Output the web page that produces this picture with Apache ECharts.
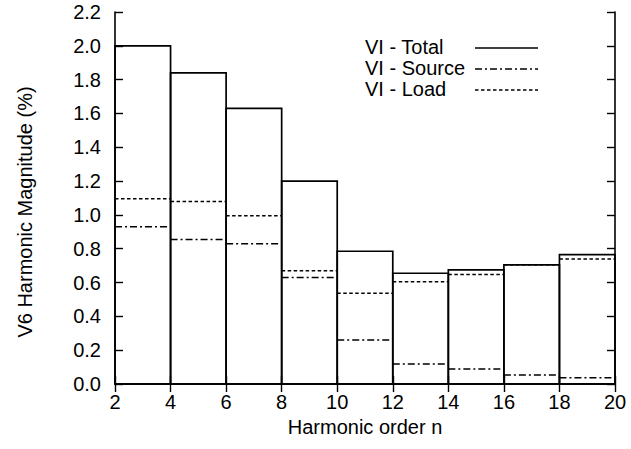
<!DOCTYPE html>
<html>
<head>
<meta charset="utf-8">
<script src="https://cdn.jsdelivr.net/npm/echarts@6/dist/echarts.min.js"></script>
<style>
html,body{margin:0;padding:0;background:#fff;}
#c{width:631px;height:449px;}
</style>
</head>
<body>
<div id="c"></div>
<script>
// Harmonic bins: each bar spans [binStart, binEnd]
const binStart = [2, 4, 6, 8, 10, 12, 14, 16, 18];
const binEnd   = [4, 6, 8, 10, 12, 14, 16, 18, 20];
// V6 harmonic magnitude (%)
const viTotal  = [2.00, 1.84, 1.63, 1.20, 0.785, 0.655, 0.675, 0.705, 0.765];
const viSource = [0.93, 0.855, 0.83, 0.63, 0.26, 0.118, 0.089, 0.053, 0.037];
const viLoad   = [1.095, 1.08, 0.995, 0.67, 0.536, 0.605, 0.648, 0.705, 0.739];
const legendNames = ['VI - Total', 'VI - Source', 'VI - Load'];
const xTitle = 'Harmonic order n';
const yTitle = 'V6 Harmonic Magnitude (%)';

const FONT = '"Liberation Sans", Arial, Helvetica, sans-serif';
const FS = 20;

const dashSource = [7, 3, 2, 3];
const dashLoad = [3.5, 2.5];

function rows(vals) {
  return binStart.map((s, i) => [s, binEnd[i], vals[i]]);
}

function rectItem(params, api) {
  const p0 = api.coord([api.value(0), api.value(2)]);
  const p1 = api.coord([api.value(1), 0]);
  return {
    type: 'rect',
    shape: { x: p0[0], y: p0[1], width: p1[0] - p0[0], height: p1[1] - p0[1] },
    style: { fill: 'none', stroke: '#000', lineWidth: 1.7 }
  };
}
function segItem(dash) {
  return function (params, api) {
    const p0 = api.coord([api.value(0), api.value(2)]);
    const p1 = api.coord([api.value(1), api.value(2)]);
    return {
      type: 'line',
      shape: { x1: p0[0], y1: p0[1], x2: p1[0], y2: p1[1] },
      style: { stroke: '#000', lineWidth: 1.5, lineDash: dash }
    };
  };
}

const chart = echarts.init(document.getElementById('c'), null, { renderer: 'svg' });

const axisLineStyle = { color: '#000', width: 1.6 };
const tickStyle = { show: true, inside: true, length: 8, lineStyle: { color: '#000', width: 1.4 } };

const legendX = 365, legendY = [48, 69, 90], lineX1 = 475, lineX2 = 538;
const legendDashes = [null, dashSource, dashLoad];
const graphics = [];
legendNames.forEach((n, i) => {
  graphics.push({
    type: 'text', left: legendX, top: legendY[i] - 11,
    style: { text: n, font: FS + 'px ' + FONT, fill: '#000' }
  });
  graphics.push({
    type: 'line',
    shape: { x1: lineX1, y1: legendY[i], x2: lineX2, y2: legendY[i] },
    style: { stroke: '#000', lineWidth: i === 0 ? 1.7 : 1.5, lineDash: legendDashes[i] }
  });
});

chart.setOption({
  animation: false,
  backgroundColor: '#fff',
  textStyle: { fontFamily: FONT },
  grid: { left: 115, right: 16, top: 12, bottom: 65 },
  graphic: graphics,
  xAxis: [{
    type: 'value', min: 2, max: 20, interval: 2, position: 'bottom',
    name: xTitle, nameLocation: 'middle', nameGap: 33,
    nameTextStyle: { fontSize: FS, color: '#000', fontFamily: FONT },
    axisLine: { show: true, lineStyle: axisLineStyle },
    axisTick: tickStyle,
    axisLabel: { fontSize: FS, color: '#000', margin: 8, fontFamily: FONT },
    splitLine: { show: false }
  }, {
    type: 'value', min: 2, max: 20, interval: 2, position: 'top',
    axisLine: { show: true, lineStyle: axisLineStyle },
    axisTick: tickStyle,
    axisLabel: { show: false },
    splitLine: { show: false }
  }],
  yAxis: [{
    type: 'value', min: 0, max: 2.2, interval: 0.2, position: 'left',
    name: yTitle, nameLocation: 'middle', nameGap: 80, nameRotate: 90,
    nameTextStyle: { fontSize: FS, color: '#000', fontFamily: FONT, padding: [0, 28, 0, 0] },
    axisLine: { show: true, lineStyle: axisLineStyle },
    axisTick: tickStyle,
    axisLabel: { fontSize: FS, color: '#000', margin: 14, fontFamily: FONT,
      formatter: v => v.toFixed(1) },
    splitLine: { show: false }
  }, {
    type: 'value', min: 0, max: 2.2, interval: 0.2, position: 'right',
    axisLine: { show: true, lineStyle: axisLineStyle },
    axisTick: tickStyle,
    axisLabel: { show: false },
    splitLine: { show: false }
  }],
  series: [
    { name: legendNames[2], type: 'custom', renderItem: segItem(dashLoad), data: rows(viLoad), encode: { x: [0, 1], y: 2 } },
    { name: legendNames[1], type: 'custom', renderItem: segItem(dashSource), data: rows(viSource), encode: { x: [0, 1], y: 2 } },
    { name: legendNames[0], type: 'custom', renderItem: rectItem, data: rows(viTotal), encode: { x: [0, 1], y: 2 } }
  ]
});
</script>
</body>
</html>
